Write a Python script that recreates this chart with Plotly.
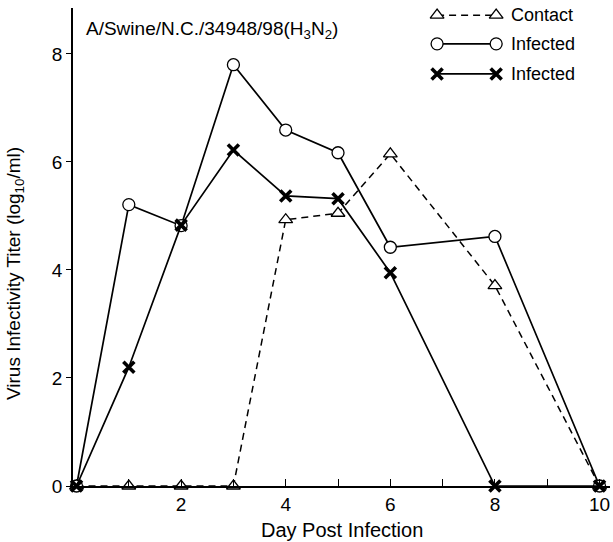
import plotly.graph_objects as go

days = [0, 1, 2, 3, 4, 5, 6, 8, 10]
contact = [0, 0, 0, 0, 4.93, 5.05, 6.15, 3.71, 0]
infected_circle = [0, 5.21, 4.82, 7.8, 6.59, 6.17, 4.42, 4.62, 0]
infected_x = [0, 2.2, 4.83, 6.22, 5.37, 5.32, 3.95, 0, 0]

x_tickvals = [1, 2, 3, 4, 5, 6, 7, 8, 9, 10]
x_ticktext = ["", "2", "", "4", "", "6", "", "8", "", "10"]
y_tickvals = [0, 2, 4, 6, 8]
y_ticktext = ["0", "2", "4", "6", "8"]

legend_labels = ["Contact", "Infected", "Infected"]
x_title = "Day Post Infection"
y_title = "Virus Infectivity Titer (log<sub>10</sub>/ml)"
strain = "A/Swine/N.C./34948/98(H<sub>3</sub>N<sub>2</sub>)"

FONT = "Liberation Sans, Arial, Helvetica, sans-serif"

tri = dict(symbol="triangle-up", size=12, color="white", line=dict(color="black", width=1.3))
circ = dict(symbol="circle", size=12, color="white", line=dict(color="black", width=1.3))
xm = dict(symbol="x-thin", size=11, color="black", line=dict(color="black", width=3.6))

styles = [
    (contact, dict(color="black", width=1.5, dash="7px,5px"), tri),
    (infected_circle, dict(color="black", width=1.7), circ),
    (infected_x, dict(color="black", width=1.7), xm),
]

fig = go.Figure()
for vals, line, marker in styles:
    fig.add_trace(go.Scatter(x=days, y=vals, mode="lines+markers", line=line,
                             marker=marker, showlegend=False, cliponaxis=False))

# custom legend drawn on an overlay axis (0..1 coordinates over the plot area)
leg_y = [0.985, 0.925, 0.862]
for (vals, line, marker), ly, lab in zip(styles, leg_y, legend_labels):
    fig.add_trace(go.Scatter(x=[0.678, 0.788], y=[ly, ly], mode="lines+markers",
                             line=line, marker=marker, showlegend=False,
                             xaxis="x2", yaxis="y2", cliponaxis=False, hoverinfo="skip"))
    fig.add_annotation(x=0.812, y=ly, xref="x2", yref="y2", text=lab, showarrow=False,
                       xanchor="left", yanchor="middle",
                       font=dict(family=FONT, size=18, color="black"))

fig.add_annotation(x=0.02, y=0.955, xref="x2", yref="y2", text=strain,
                   showarrow=False, xanchor="left", yanchor="middle",
                   font=dict(family=FONT, size=19, color="black"))

fig.add_annotation(x=0.5, y=-0.092, xref="paper", yref="paper", text=x_title,
                   showarrow=False, xanchor="center", yanchor="middle",
                   font=dict(family=FONT, size=20, color="black"))
fig.add_annotation(x=-0.108, y=0.4435, xref="paper", yref="paper", text=y_title,
                   textangle=-90, showarrow=False, xanchor="center", yanchor="middle",
                   font=dict(family=FONT, size=19, color="black"))

fig.update_layout(
    width=613, height=542,
    margin=dict(l=73, r=3, t=8, b=56),
    paper_bgcolor="white", plot_bgcolor="white",
    font=dict(family=FONT, size=19, color="black"),
    xaxis=dict(range=[-0.067, 10.2], tickvals=x_tickvals, ticktext=x_ticktext,
               ticks="inside", ticklen=7, tickwidth=1.3, tickcolor="black",
               showline=True, linecolor="black", linewidth=1.5, showgrid=False,
               zeroline=False, tickfont=dict(size=19), automargin=False),
    yaxis=dict(range=[0, 8.85], tickvals=y_tickvals, ticktext=y_ticktext,
               ticks="outside", ticklen=5, tickwidth=1.3, tickcolor="black",
               showline=True, linecolor="black", linewidth=1.5, showgrid=False,
               zeroline=False, tickfont=dict(size=19), automargin=False),
    xaxis2=dict(overlaying="x", range=[0, 1], visible=False, fixedrange=True),
    yaxis2=dict(overlaying="y", range=[0, 1], visible=False, fixedrange=True),
)

# remove the page's default body margin so the figure sits at the window's top-left
fig.write_html("out.html", config={"displayModeBar": False},
               post_script="document.body.style.margin='0';document.body.style.padding='0';")
